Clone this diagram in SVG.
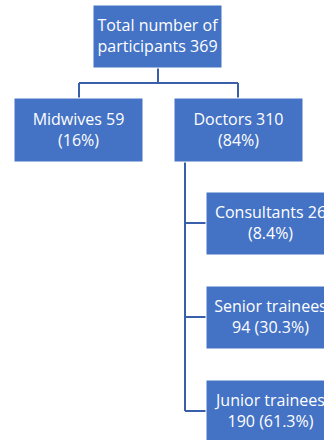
<svg xmlns="http://www.w3.org/2000/svg" width="324" height="440" viewBox="0 0 324 440">
<style>
.box{fill:#4472C4;stroke:#ffffff;stroke-width:1}
.t{font-family:"Open Sans","Liberation Sans",sans-serif;font-size:16px;fill:#ffffff;text-anchor:middle}
.c{fill:none;stroke:#3A5FAA;stroke-width:2}
</style>
<rect width="324" height="440" fill="#ffffff"/>
<g id="connectors">
<path class="c" d="M158 68 V83 M79 83 H238 M79 83 V98 M238 83 V98"/>
<path class="c" d="M185 162 V411 M185 223 H206 M185 317 H206 M185 411 H206"/>
</g>
<g id="total">
<rect class="box" x="93" y="5" width="129" height="63"/>
<text class="t" x="157.5" y="31">Total number of</text>
<text class="t" x="157.5" y="52">participants 369</text>
</g>
<g id="midwives">
<rect class="box" x="14" y="98" width="129" height="64"/>
<text class="t" x="78.5" y="124.5">Midwives 59</text>
<text class="t" x="78.5" y="145.5">(16%)</text>
</g>
<g id="doctors">
<rect class="box" x="174" y="98" width="129" height="64"/>
<text class="t" x="238.5" y="124.5">Doctors 310</text>
<text class="t" x="238.5" y="145.5">(84%)</text>
</g>
<g id="consultants">
<rect class="box" x="206" y="192" width="129" height="63"/>
<text class="t" x="270.5" y="218">Consultants 26</text>
<text class="t" x="270.5" y="239">(8.4%)</text>
</g>
<g id="senior">
<rect class="box" x="206" y="286" width="129" height="63"/>
<text class="t" x="270.5" y="312">Senior trainees</text>
<text class="t" x="270.5" y="333">94 (30.3%)</text>
</g>
<g id="junior">
<rect class="box" x="206" y="380" width="129" height="63"/>
<text class="t" x="270.5" y="406">Junior trainees</text>
<text class="t" x="270.5" y="427">190 (61.3%)</text>
</g>
</svg>
